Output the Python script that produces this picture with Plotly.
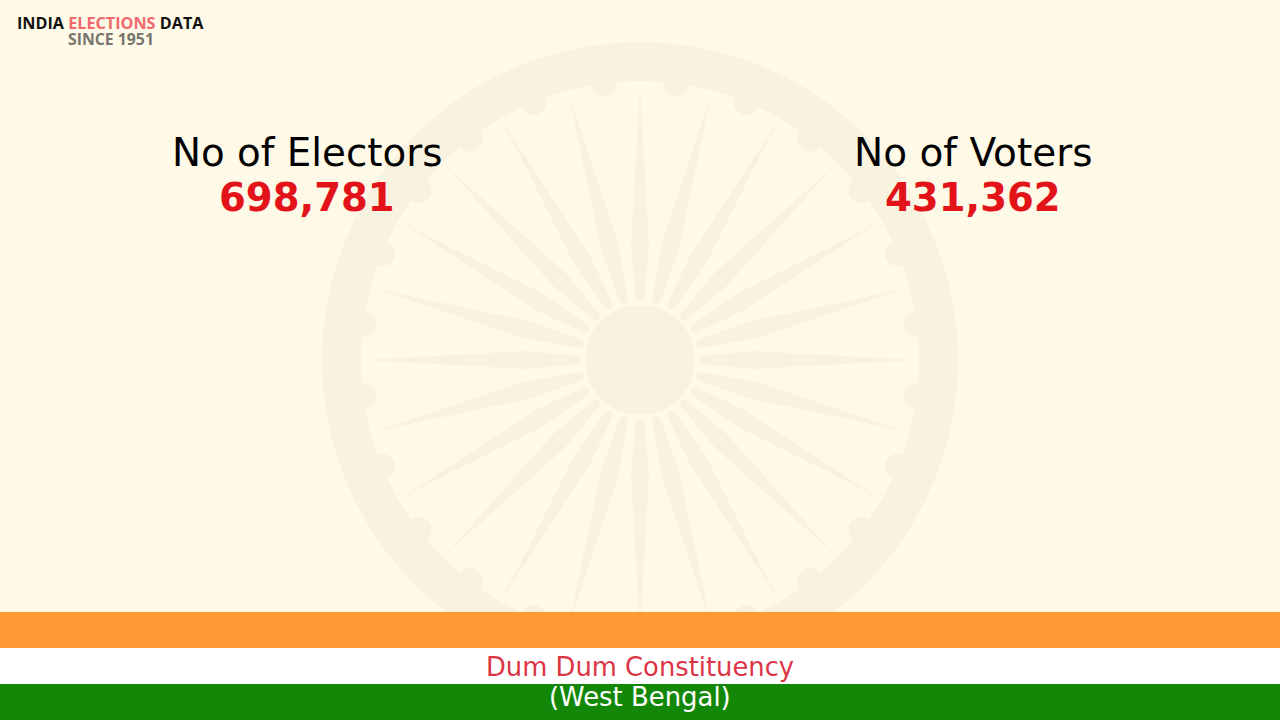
import numpy as np
import plotly.graph_objects as go

# values shown on the slide
stat_labels = ['No of Electors', 'No of Voters']
stat_values = [698781, 431362]
constituency = 'Dum Dum Constituency'
state = '(West Bengal)'

BG = '#FFF9E8'
WHEEL = '#F8F2E0'
SAFFRON = '#FF9933'
GREEN = '#138808'
RED = '#E3131A'

W, H = 1280, 720
CX, CY = 640, 360
R_OUT, R_IN, R_HUB = 318, 279, 55
SPOKES = 24


def circle(x, y, r, color):
    return dict(type='circle', x0=x - r, x1=x + r, y0=y - r, y1=y + r,
                fillcolor=color, line_width=0, layer='below')


def spoke_path(angle):
    # kite shape, thin at the rim and thickest about a quarter of the way out
    pts = [(0, 58), (4, 60), (9, 115), (0, 275), (-9, 115), (-4, 60)]
    out = []
    for w, r in pts:
        x = CX + r * np.sin(angle) + w * np.cos(angle)
        y = CY - r * np.cos(angle) + w * np.sin(angle)
        out.append(f'{x:.1f},{y:.1f}')
    return 'M' + ' L'.join(out) + ' Z'


shapes = [circle(CX, CY, R_OUT, WHEEL), circle(CX, CY, R_IN, BG)]
for i in range(SPOKES):
    a = 2 * np.pi * (i + 0.5) / SPOKES
    shapes.append(circle(CX + R_IN * np.sin(a), CY - R_IN * np.cos(a), 13, WHEEL))
for i in range(SPOKES):
    shapes.append(dict(type='path', path=spoke_path(2 * np.pi * i / SPOKES),
                       fillcolor=WHEEL, line_width=0, layer='below'))
shapes.append(circle(CX, CY, R_HUB, WHEEL))

# flag bands sit on top of the wheel
for y0, y1, c in [(612, 648, SAFFRON), (648, 684, 'white'), (684, 720, GREEN)]:
    shapes.append(dict(type='rect', x0=0, x1=W, y0=y0, y1=y1,
                       fillcolor=c, line_width=0, layer='below'))


def label(x, y, text, size, color, bold=False, family='DejaVu Sans'):
    return dict(x=x, y=y, text=f'<b>{text}</b>' if bold else text, showarrow=False,
                xanchor='center', yanchor='middle',
                font=dict(family=family, size=size, color=color))


annotations = [
    label(306.5, 152, stat_labels[0], 38.8, 'black'),
    label(973, 152, stat_labels[1], 39, 'black'),
    label(306.5, 197, f'{stat_values[0]:,}', 38.6, RED, bold=True),
    label(973, 197, f'{stat_values[1]:,}', 38.6, RED, bold=True),
    label(640, 667, constituency, 25.8, '#DC3545'),
    label(640, 697, state, 25.9, 'white'),
    label(110, 23, 'INDIA <span style="color:#F0686C">ELECTIONS</span> DATA', 16.2, '#111111',
          bold=True, family='Open Sans'),
    label(111, 39, 'SINCE 1951', 15.8, '#77756E', bold=True, family='Open Sans'),
]

fig = go.Figure()
fig.update_layout(
    width=W, height=H,
    margin=dict(l=0, r=0, t=0, b=0),
    paper_bgcolor=BG, plot_bgcolor=BG,
    xaxis=dict(range=[0, W], visible=False, fixedrange=True),
    yaxis=dict(range=[H, 0], visible=False, fixedrange=True),
    shapes=shapes,
    annotations=annotations,
    showlegend=False,
)
# drop the browser's default body margin so the slide fills the window
fig.write_html('out.html', config=dict(displayModeBar=False),
               post_script="document.body.style.margin='0';")
